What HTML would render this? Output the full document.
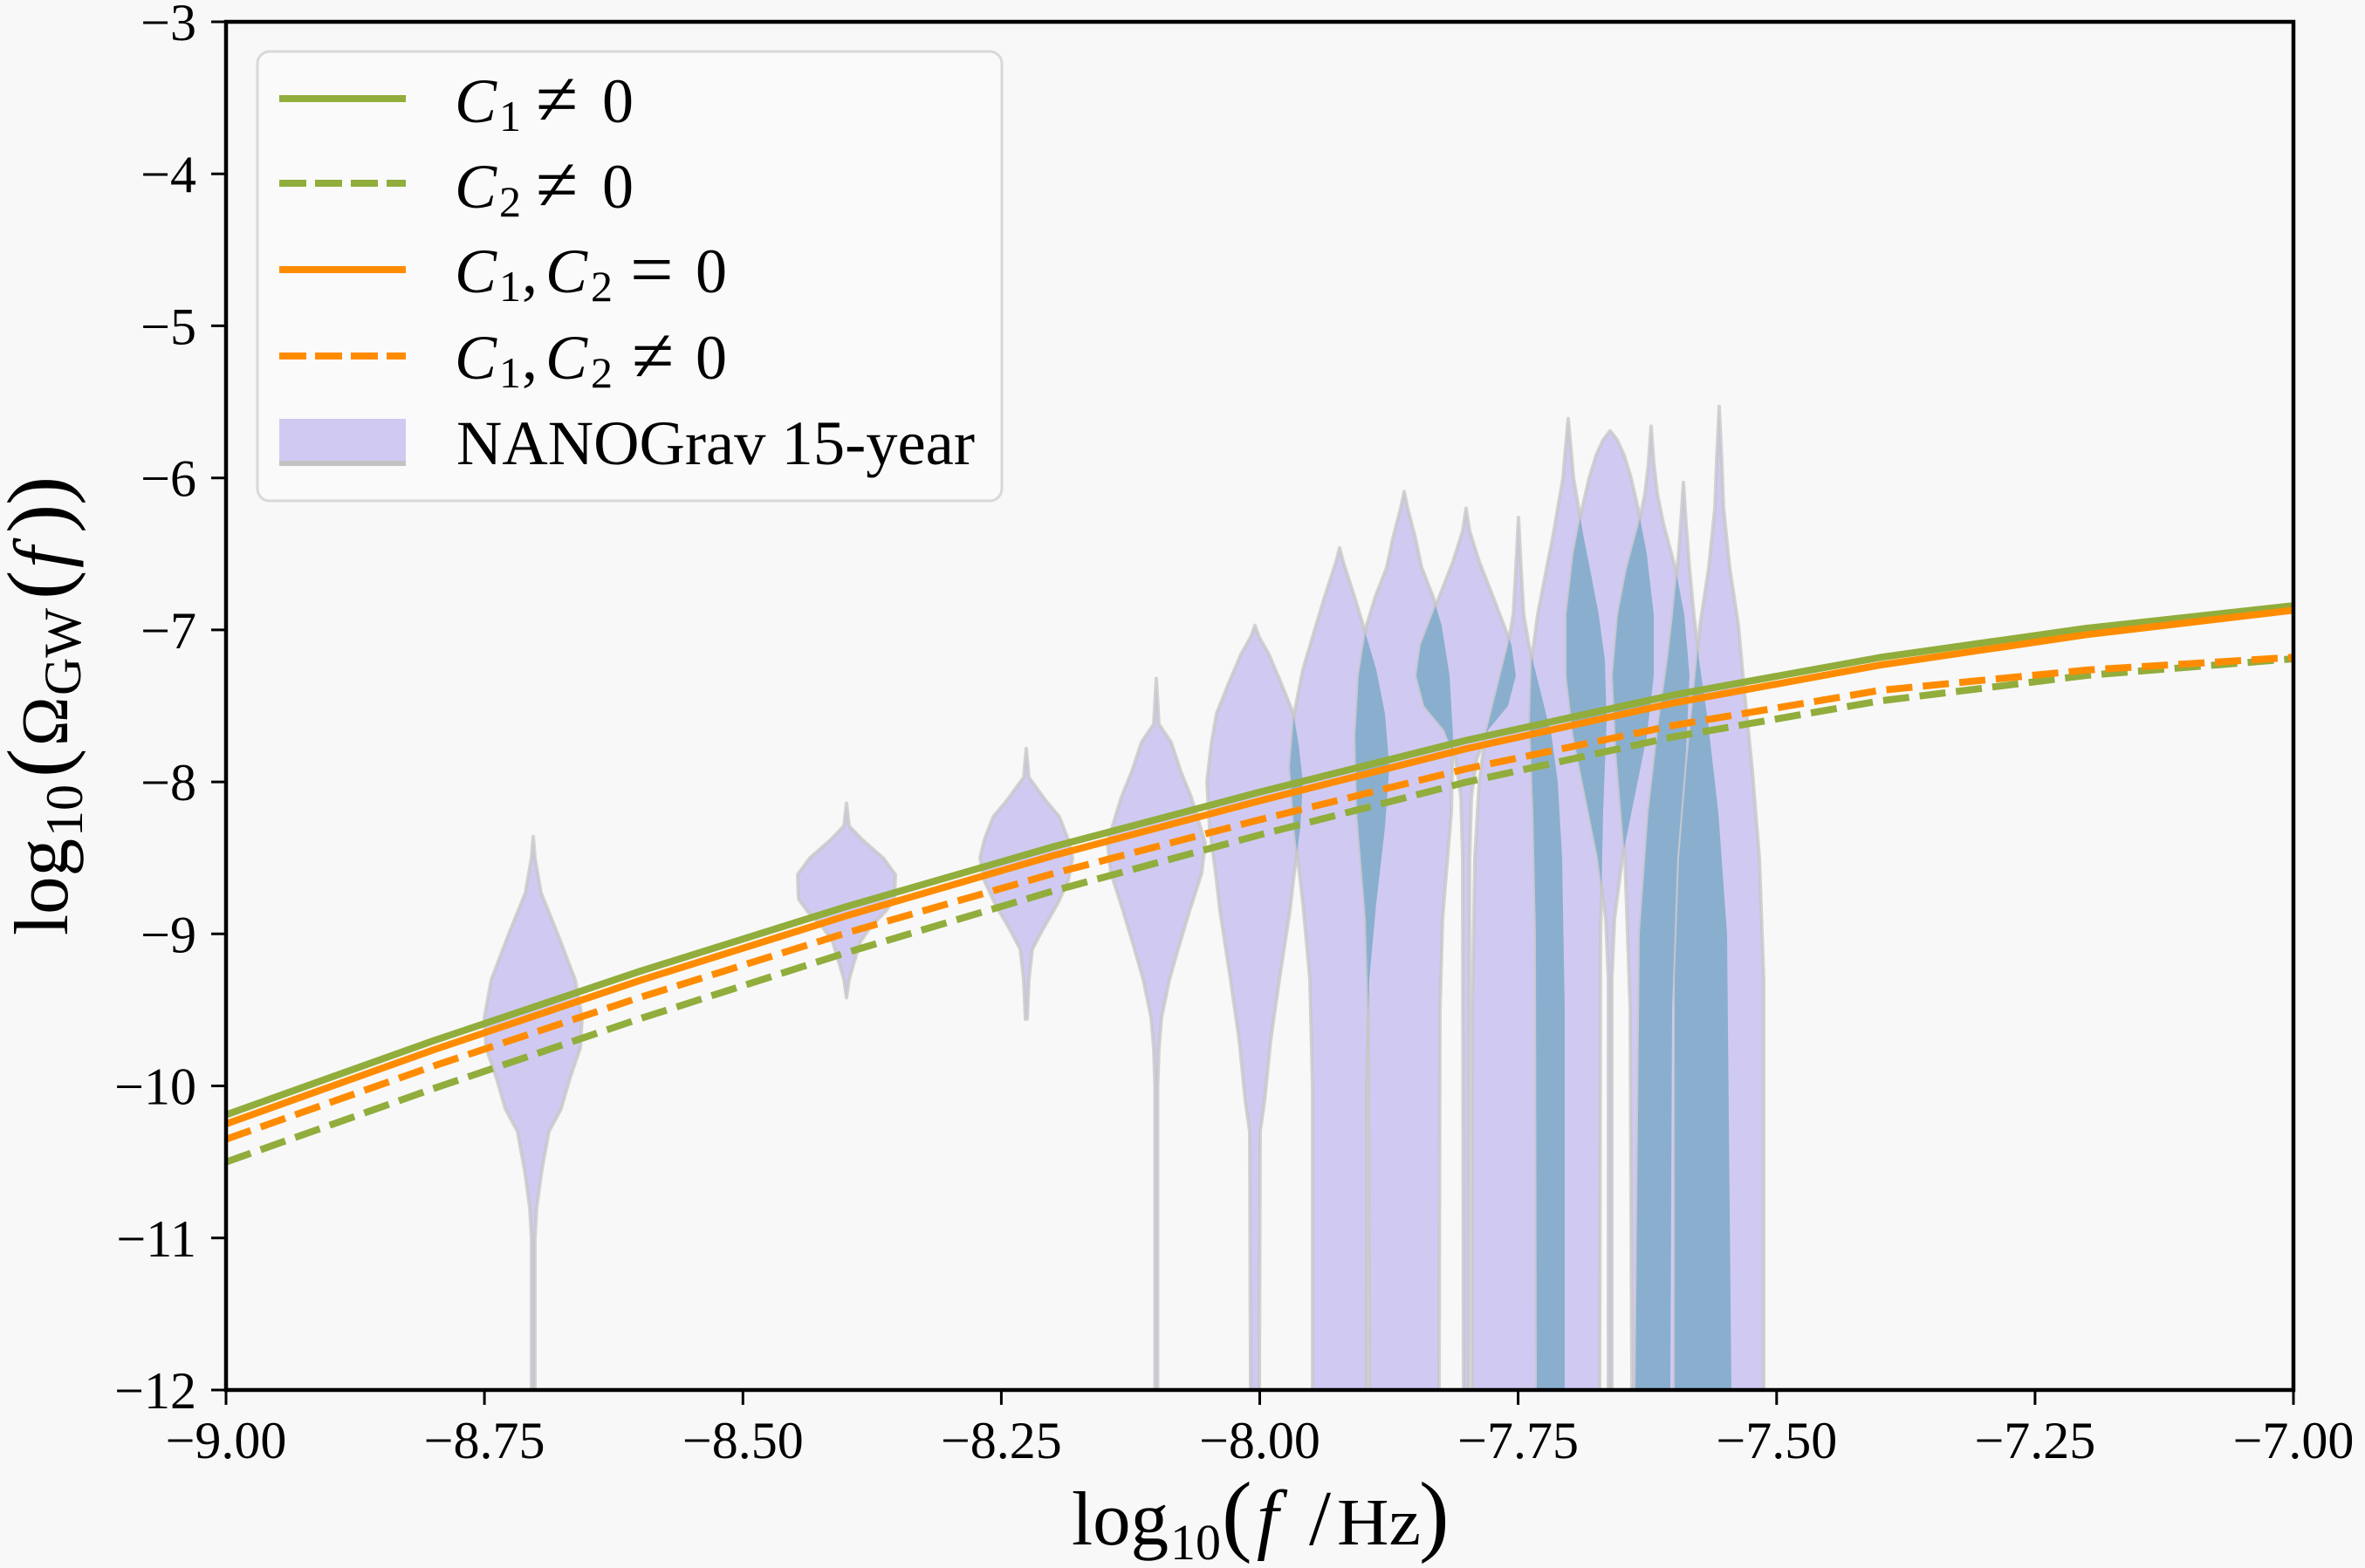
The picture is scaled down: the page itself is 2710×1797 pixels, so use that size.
<!DOCTYPE html>
<html><head><meta charset="utf-8"><style>html,body{margin:0;padding:0;background:#f8f8f8;}svg{display:block}</style></head>
<body>
<svg width="2710" height="1797" viewBox="0 0 2710 1797" xmlns="http://www.w3.org/2000/svg" xmlns:xlink="http://www.w3.org/1999/xlink">
<rect x="0" y="0" width="2710" height="1797" fill="#f8f8f8"/>
<defs>
<clipPath id="ax"><rect x="259" y="25" width="2369" height="1568"/></clipPath>
<path id="v1" d="M611,958.8 L613,983.2 L620,1023.3 L639,1070.3 L659,1122.6 L667,1166.1 L665,1201 L653,1235.8 L643,1270.7 L629,1296.8 L621,1340.4 L615,1383.9 L613,1418.8 L613,1593 L609,1593 L609,1418.8 L607,1383.9 L601,1340.4 L593,1296.8 L579,1270.7 L569,1235.8 L557,1201 L555,1166.1 L563,1122.6 L583,1070.3 L602,1023.3 L609,983.2 Z"/>
<path id="v2" d="M970,920.5 L973,946.6 L988,962.3 L1012,983.2 L1026,1002.4 L1025,1030.3 L1015,1044.2 L998,1061.6 L986,1079 L978,1105.2 L973,1122.6 L970,1143.5 L967,1122.6 L962,1105.2 L954,1079 L942,1061.6 L925,1044.2 L915,1030.3 L914,1002.4 L928,983.2 L952,962.3 L967,946.6 Z"/>
<path id="v3" d="M1176,857.8 L1179,890.9 L1198,917 L1214,936.2 L1224,962.3 L1229,983.2 L1224,1009.3 L1212,1035.5 L1204,1049.4 L1194,1066.8 L1183,1087.7 L1179,1122.6 L1177,1167.9 L1175,1167.9 L1173,1122.6 L1169,1087.7 L1158,1066.8 L1148,1049.4 L1140,1035.5 L1128,1009.3 L1123,983.2 L1128,962.3 L1138,936.2 L1154,917 L1173,890.9 Z"/>
<path id="v4" d="M1325,777.6 L1328,829.9 L1342,850.8 L1353,883.9 L1365,913.5 L1381,965.8 L1377,1000.6 L1363,1044.2 L1350,1087.7 L1340,1122.6 L1331,1166.1 L1328,1201 L1326.5,1244.5 L1326.5,1593 L1323.5,1593 L1323.5,1244.5 L1322,1201 L1319,1166.1 L1310,1122.6 L1300,1087.7 L1287,1044.2 L1273,1000.6 L1269,965.8 L1285,913.5 L1297,883.9 L1308,850.8 L1322,829.9 Z"/>
<path id="v5" d="M1438,716.7 L1443,730.6 L1454,749.8 L1468,782.9 L1482,817.7 L1488,852.5 L1493,896.1 L1490,948.4 L1483,1000.6 L1478,1044.2 L1466,1122.6 L1456,1192.3 L1449,1261.9 L1444,1296.8 L1443,1593 L1433,1593 L1432,1296.8 L1427,1261.9 L1420,1192.3 L1410,1122.6 L1398,1044.2 L1393,1000.6 L1386,948.4 L1383,896.1 L1388,852.5 L1394,817.7 L1408,782.9 L1422,749.8 L1433,730.6 Z"/>
<path id="v6" d="M1535,627.8 L1539,643.5 L1552,683.6 L1562,716.7 L1577,767.2 L1587,817.7 L1592,878.7 L1587,948.4 L1577,1035.5 L1569,1122.6 L1566,1244.5 L1566,1593 L1504,1593 L1504,1244.5 L1501,1122.6 L1493,1035.5 L1483,948.4 L1478,878.7 L1483,817.7 L1493,767.2 L1508,716.7 L1518,683.6 L1531,643.5 Z"/>
<path id="v7" d="M1609,563.3 L1613,582.5 L1622,617.3 L1629,650.4 L1642,683.6 L1652,716.7 L1661,774.1 L1665,843.8 L1663,930.9 L1653,1052.9 L1650,1157.4 L1649,1593 L1569,1593 L1568,1157.4 L1565,1052.9 L1555,930.9 L1553,843.8 L1557,774.1 L1566,716.7 L1576,683.6 L1589,650.4 L1596,617.3 L1605,582.5 Z"/>
<path id="v8" d="M1680,582.5 L1684,608.6 L1695,643.5 L1712,687 L1732,739.3 L1737,774.1 L1728,809 L1705,836.9 L1692,870 L1686,913.5 L1684,983.2 L1683,1593 L1677,1593 L1676,983.2 L1674,913.5 L1668,870 L1655,836.9 L1632,809 L1623,774.1 L1628,739.3 L1648,687 L1665,643.5 L1676,608.6 Z"/>
<path id="v9" d="M1740,593 L1743,652.2 L1746,704.5 L1752,739.3 L1765,791.6 L1778,843.8 L1785,896.1 L1790,983.2 L1793,1157.4 L1793,1593 L1687,1593 L1687,1157.4 L1690,983.2 L1695,896.1 L1702,843.8 L1715,791.6 L1728,739.3 L1734,704.5 L1737,652.2 Z"/>
<path id="v10" d="M1797,479.7 L1800,512.8 L1803,547.7 L1809,582.5 L1815,617.3 L1822,652.2 L1832,704.5 L1839,756.7 L1841,826.4 L1837,930.9 L1834,1070.3 L1833,1593 L1761,1593 L1760,1070.3 L1757,930.9 L1753,826.4 L1755,756.7 L1762,704.5 L1772,652.2 L1779,617.3 L1785,582.5 L1791,547.7 L1794,512.8 Z"/>
<path id="v11" d="M1845,493.6 L1853,504.1 L1861,521.5 L1869,547.7 L1877,582.5 L1887,634.8 L1895,704.5 L1895,774.1 L1887,843.8 L1873,913.5 L1859,983.2 L1850,1052.9 L1847,1122.6 L1847,1593 L1843,1593 L1843,1122.6 L1840,1052.9 L1831,983.2 L1817,913.5 L1803,843.8 L1795,774.1 L1795,704.5 L1803,634.8 L1813,582.5 L1821,547.7 L1829,521.5 L1837,504.1 Z"/>
<path id="v12" d="M1892,488.4 L1895,530.2 L1899,565.1 L1906,599.9 L1920,652.2 L1930,704.5 L1936,774.1 L1932,861.3 L1922,983.2 L1916,1157.4 L1914,1593 L1870,1593 L1868,1157.4 L1862,983.2 L1852,861.3 L1848,774.1 L1854,704.5 L1864,652.2 L1878,599.9 L1885,565.1 L1889,530.2 Z"/>
<path id="v13" d="M1929,552.9 L1932,599.9 L1936,652.2 L1941,704.5 L1947,756.7 L1957,826.4 L1969,930.9 L1979,1070.3 L1984,1593 L1874,1593 L1879,1070.3 L1889,930.9 L1901,826.4 L1911,756.7 L1917,704.5 L1922,652.2 L1926,599.9 Z"/>
<path id="v14" d="M1970,465.8 L1973,530.2 L1975,582.5 L1982,650.4 L1992,716.7 L1998,782.9 L2008,883.9 L2016,983.2 L2021,1122.6 L2021,1593 L1919,1593 L1919,1122.6 L1924,983.2 L1932,883.9 L1942,782.9 L1948,716.7 L1958,650.4 L1965,582.5 L1967,530.2 Z"/>
<clipPath id="c4"><use href="#v4" xlink:href="#v4"/></clipPath>
<clipPath id="c5"><use href="#v5" xlink:href="#v5"/></clipPath>
<clipPath id="c6"><use href="#v6" xlink:href="#v6"/></clipPath>
<clipPath id="c7"><use href="#v7" xlink:href="#v7"/></clipPath>
<clipPath id="c8"><use href="#v8" xlink:href="#v8"/></clipPath>
<clipPath id="c9"><use href="#v9" xlink:href="#v9"/></clipPath>
<clipPath id="c10"><use href="#v10" xlink:href="#v10"/></clipPath>
<clipPath id="c11"><use href="#v11" xlink:href="#v11"/></clipPath>
<clipPath id="c12"><use href="#v12" xlink:href="#v12"/></clipPath>
<clipPath id="c13"><use href="#v13" xlink:href="#v13"/></clipPath>
</defs>

<g clip-path="url(#ax)">
  <g fill="#d0caf2" stroke="#c6c6c6" stroke-opacity="0.75" stroke-width="4" stroke-linejoin="round">
    <use href="#v1" xlink:href="#v1"/>
    <use href="#v2" xlink:href="#v2"/>
    <use href="#v3" xlink:href="#v3"/>
    <use href="#v4" xlink:href="#v4"/>
    <use href="#v5" xlink:href="#v5"/>
    <use href="#v6" xlink:href="#v6"/>
    <use href="#v7" xlink:href="#v7"/>
    <use href="#v8" xlink:href="#v8"/>
    <use href="#v9" xlink:href="#v9"/>
    <use href="#v10" xlink:href="#v10"/>
    <use href="#v11" xlink:href="#v11"/>
    <use href="#v12" xlink:href="#v12"/>
    <use href="#v13" xlink:href="#v13"/>
    <use href="#v14" xlink:href="#v14"/>
  </g>
  <g fill="#8aafce" stroke="none">
    <use href="#v5" xlink:href="#v5" clip-path="url(#c4)"/>
    <use href="#v6" xlink:href="#v6" clip-path="url(#c5)"/>
    <use href="#v7" xlink:href="#v7" clip-path="url(#c6)"/>
    <use href="#v8" xlink:href="#v8" clip-path="url(#c7)"/>
    <use href="#v9" xlink:href="#v9" clip-path="url(#c8)"/>
    <use href="#v10" xlink:href="#v10" clip-path="url(#c8)"/>
    <use href="#v10" xlink:href="#v10" clip-path="url(#c9)"/>
    <use href="#v11" xlink:href="#v11" clip-path="url(#c10)"/>
    <use href="#v12" xlink:href="#v12" clip-path="url(#c11)"/>
    <use href="#v13" xlink:href="#v13" clip-path="url(#c12)"/>
    <use href="#v14" xlink:href="#v14" clip-path="url(#c13)"/>
  </g>

  <g fill="none" stroke-width="8" stroke-linejoin="round">
    <polyline stroke="#91ad3c" points="259,1277.6 495.9,1193.0 732.8,1113.3 969.7,1039.1 1206.6,970.5 1443.5,907.8 1680.4,848.4 1917.3,796.5 2154.2,753.5 2391.1,720.0 2628,694.1"/>
    <polyline stroke="#91ad3c" stroke-dasharray="30 12" points="259,1331.7 495.9,1247.8 732.8,1167.6 969.7,1091.8 1206.6,1021.2 1443.5,956.8 1680.4,896.3 1917.3,844.5 2154.2,803.3 2391.1,774.0 2628,755.0"/>
    <polyline stroke="#ff8c00" points="259,1288.1 495.9,1203.5 732.8,1123.8 969.7,1049.6 1206.6,980.6 1443.5,917.7 1680.4,858.0 1917.3,805.7 2154.2,762.2 2391.1,727.3 2628,699.3"/>
    <polyline stroke="#ff8c00" stroke-dasharray="30 12" points="259,1305.6 495.9,1222.0 732.8,1143.2 969.7,1069.2 1206.6,1001.2 1443.5,939.4 1680.4,881.0 1917.3,831.4 2154.2,791.2 2391.1,767.9 2628,753.3"/>
  </g>
</g>

<!-- spines -->
<rect x="259" y="25" width="2369" height="1568" fill="none" stroke="#000" stroke-width="4.5"/>

<!-- ticks -->
<g stroke="#000" stroke-width="3">
  <line x1="242" y1="25" x2="259" y2="25"/>
  <line x1="242" y1="199.2" x2="259" y2="199.2"/>
  <line x1="242" y1="373.4" x2="259" y2="373.4"/>
  <line x1="242" y1="547.7" x2="259" y2="547.7"/>
  <line x1="242" y1="721.9" x2="259" y2="721.9"/>
  <line x1="242" y1="896.1" x2="259" y2="896.1"/>
  <line x1="242" y1="1070.3" x2="259" y2="1070.3"/>
  <line x1="242" y1="1244.5" x2="259" y2="1244.5"/>
  <line x1="242" y1="1418.8" x2="259" y2="1418.8"/>
  <line x1="242" y1="1593" x2="259" y2="1593"/>
  <line x1="259" y1="1593" x2="259" y2="1610"/>
  <line x1="555.1" y1="1593" x2="555.1" y2="1610"/>
  <line x1="851.3" y1="1593" x2="851.3" y2="1610"/>
  <line x1="1147.4" y1="1593" x2="1147.4" y2="1610"/>
  <line x1="1443.5" y1="1593" x2="1443.5" y2="1610"/>
  <line x1="1739.6" y1="1593" x2="1739.6" y2="1610"/>
  <line x1="2035.8" y1="1593" x2="2035.8" y2="1610"/>
  <line x1="2331.9" y1="1593" x2="2331.9" y2="1610"/>
  <line x1="2628" y1="1593" x2="2628" y2="1610"/>
</g>

<!-- y tick labels -->
<g font-family="'Liberation Serif', serif" font-size="60" fill="#000" text-anchor="end">
  <text x="225" y="46">−3</text>
  <text x="225" y="220.2">−4</text>
  <text x="225" y="394.4">−5</text>
  <text x="225" y="568.7">−6</text>
  <text x="225" y="742.9">−7</text>
  <text x="225" y="917.1">−8</text>
  <text x="225" y="1091.3">−9</text>
  <text x="225" y="1265.5">−10</text>
  <text x="225" y="1439.8">−11</text>
  <text x="225" y="1614">−12</text>
</g>

<!-- x tick labels -->
<g font-family="'Liberation Serif', serif" font-size="60" fill="#000" text-anchor="middle">
  <text x="259" y="1671">−9.00</text>
  <text x="555.1" y="1671">−8.75</text>
  <text x="851.3" y="1671">−8.50</text>
  <text x="1147.4" y="1671">−8.25</text>
  <text x="1443.5" y="1671">−8.00</text>
  <text x="1739.6" y="1671">−7.75</text>
  <text x="2035.8" y="1671">−7.50</text>
  <text x="2331.9" y="1671">−7.25</text>
  <text x="2628" y="1671">−7.00</text>
</g>

<!-- x label -->
<g font-family="'Liberation Serif', serif" fill="#000">
  <text x="1228" y="1770" font-size="88" textLength="111" lengthAdjust="spacingAndGlyphs">log</text>
  <text x="1341" y="1787" font-size="58">10</text>
  <text x="1400" y="1770" font-size="104">(</text>
  <text x="1440" y="1770" font-size="90" font-style="italic">f</text>
  <text x="1500" y="1770" font-size="90">/</text>
  <text x="1532" y="1770" font-size="76" textLength="96" lengthAdjust="spacingAndGlyphs">Hz</text>
  <text x="1626" y="1770" font-size="104">)</text>
</g>

<!-- y label -->
<g font-family="'Liberation Serif', serif" fill="#000" transform="translate(77,809) rotate(-90)">
  <text x="-263" y="0" font-size="88" textLength="111" lengthAdjust="spacingAndGlyphs">log</text>
  <text x="-150" y="17" font-size="60">10</text>
  <text x="-82" y="0" font-size="100">(</text>
  <text x="-46" y="0" font-size="76">Ω</text>
  <text x="12" y="15" font-size="60">GW</text>
  <text x="122" y="0" font-size="100">(</text>
  <text x="158" y="0" font-size="88" font-style="italic">f</text>
  <text x="198" y="0" font-size="100">)</text>
  <text x="230" y="0" font-size="100">)</text>
</g>

<!-- legend -->
<rect x="295" y="59" width="853" height="515" rx="14" ry="14" fill="#fafafa" stroke="#d8d8d8" stroke-width="3"/>
<g stroke-width="8" fill="none">
  <line x1="320" y1="113" x2="465" y2="113" stroke="#91ad3c"/>
  <line x1="320" y1="210" x2="465" y2="210" stroke="#91ad3c" stroke-dasharray="31 10"/>
  <line x1="320" y1="309" x2="465" y2="309" stroke="#ff8c00"/>
  <line x1="320" y1="408" x2="465" y2="408" stroke="#ff8c00" stroke-dasharray="31 10"/>
</g>
<rect x="320" y="480" width="145" height="54" fill="#d0caf2"/>
<rect x="320" y="528" width="145" height="6" fill="#c2c2c2"/>

<g font-family="'Liberation Serif', serif" fill="#000" font-size="72">
  <text x="521" y="140" font-style="italic">C</text>
  <text x="572" y="150" font-size="50">1</text>
  <text x="614" y="143" font-size="88">≠</text>
  <text x="690" y="140">0</text>

  <text x="521" y="238" font-style="italic">C</text>
  <text x="572" y="248" font-size="50">2</text>
  <text x="614" y="241" font-size="88">≠</text>
  <text x="690" y="238">0</text>

  <text x="521" y="335" font-style="italic">C</text>
  <text x="572" y="345" font-size="50">1</text>
  <text x="598" y="335">,</text>
  <text x="625" y="335" font-style="italic">C</text>
  <text x="677" y="345" font-size="50">2</text>
  <text x="722" y="338" font-size="88">=</text>
  <text x="797" y="335">0</text>

  <text x="521" y="434" font-style="italic">C</text>
  <text x="572" y="444" font-size="50">1</text>
  <text x="598" y="434">,</text>
  <text x="625" y="434" font-style="italic">C</text>
  <text x="677" y="444" font-size="50">2</text>
  <text x="724" y="437" font-size="88">≠</text>
  <text x="797" y="434">0</text>

  <text x="523" y="532" textLength="594" lengthAdjust="spacingAndGlyphs">NANOGrav 15-year</text>
</g>
</svg>
</body></html>
